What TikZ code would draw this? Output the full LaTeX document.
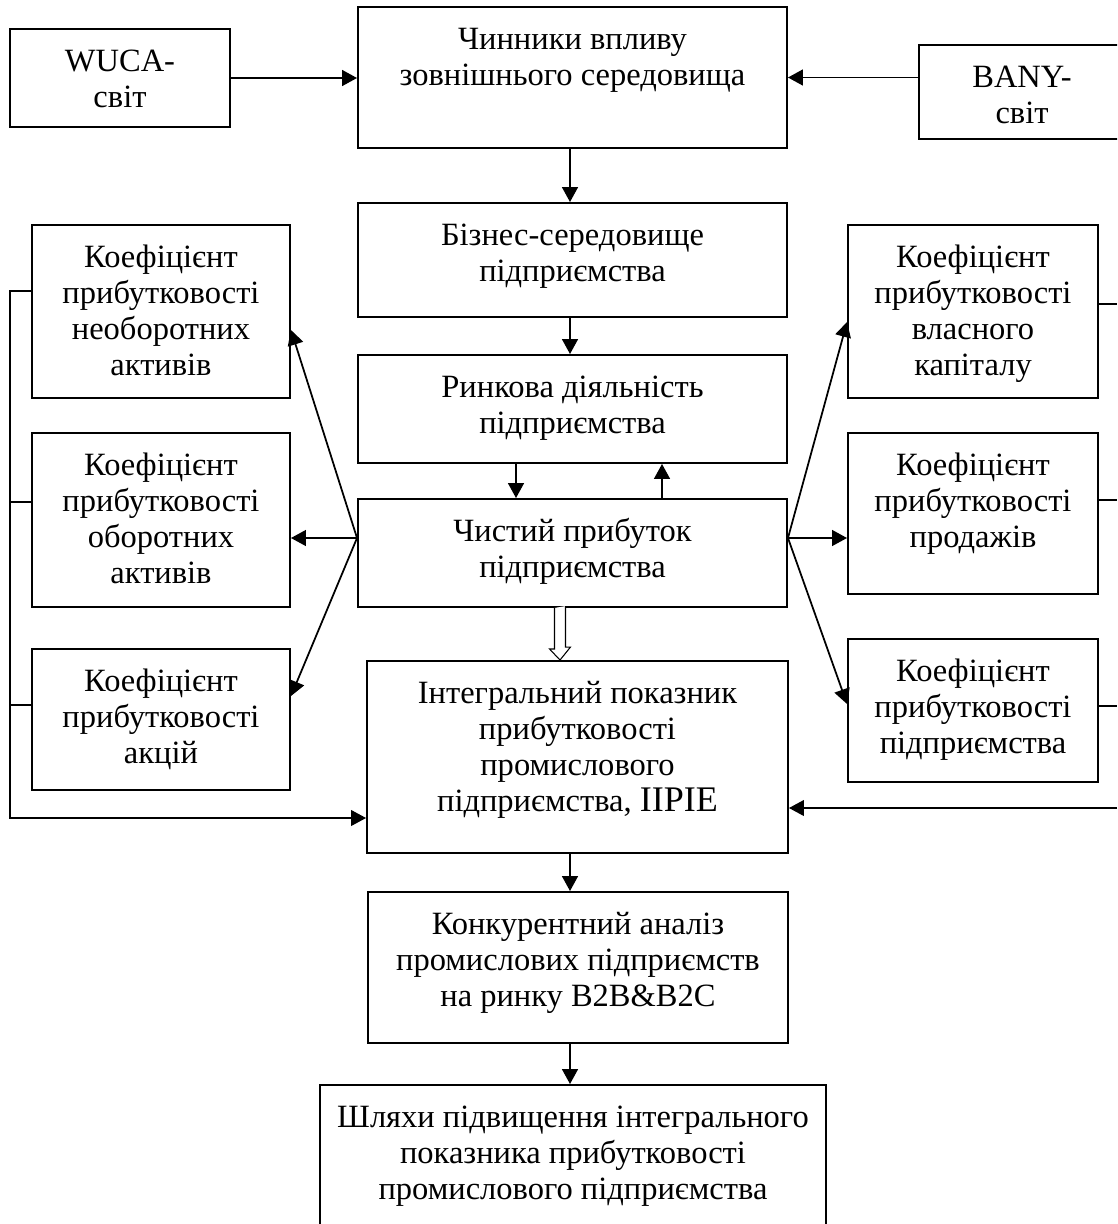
\documentclass[tikz,border=0pt]{standalone}
\usepackage{fontspec}
\setmainfont{Liberation Serif}
\usetikzlibrary{arrows.meta, calc}

\newlength\pxu
\setlength\pxu{0.02cm}
% text block of a box: width, height (px), first line 42px below the top
\newcommand{\boxtext}[3]{\parbox[c][#2\pxu][t]{#1\pxu}{\centering\rule{0pt}{42\pxu}#3}}

\begin{document}
\begin{tikzpicture}[
        x=0.02cm, y=-0.02cm,
        >={Triangle[length=8.5pt, width=9pt]},
        font=\fontsize{18.5}{20.5}\selectfont,
        box/.style={draw=black, line width=1.1pt, inner sep=0pt},
        line/.style={->, line width=1.1pt},
        fan/.style={->, line width=1pt},
        bus/.style={line width=0.7pt},
        hollow/.style={line width=0.6pt, fill=white}
    ]
        \clip (0,0) rectangle (1117,1224);
        \useasboundingbox (0,0) rectangle (1117,1224);
        \fill[white] (0,0) rectangle (1117,1224);

        % top row
        \node[box] (wuca) at (120,78) {\boxtext{220}{98}{WUCA-\\світ}};
        \node[box] (chyn) at (572.5,77.5) {\boxtext{429}{141}{Чинники впливу\\зовнішнього середовища}};
        \node[box] (bany) at (1022,92) {\boxtext{206}{94}{BANY-\\світ}};

        % central column
        \node[box] (biz) at (572.5,260) {\boxtext{429}{114}{Бізнес-середовище\\підприємства}};
        \node[box] (ryn) at (572.5,409) {\boxtext{429}{108}{Ринкова діяльність\\підприємства}};
        \node[box] (chys) at (572.5,553) {\boxtext{429}{108}{Чистий прибуток\\підприємства}};
        \node[box] (intg) at (577.5,757) {\boxtext{421}{192}{Інтегральний показник\\прибутковості\\промислового\\підприємства, {\fontsize{20.5}{20.5}\selectfont IIPIE}}};
        \node[box] (konk) at (578,967.5) {\boxtext{420}{151}{Конкурентний аналіз\\промислових підприємств\\на ринку B2B\&B2C}};
        \node[box] (shl) at (573,1167.5) {\boxtext{506}{165}{Шляхи підвищення інтегрального\\показника прибутковості\\промислового підприємства}};

        % left coefficients
        \node[box] (lk1) at (161,311.5) {\boxtext{258}{173}{Коефіцієнт\\прибутковості\\необоротних\\активів}};
        \node[box] (lk2) at (161,520) {\boxtext{258}{174}{Коефіцієнт\\прибутковості\\оборотних\\активів}};
        \node[box] (lk3) at (161,719.5) {\boxtext{258}{141}{Коефіцієнт\\прибутковості\\акцій}};

        % right coefficients
        \node[box] (rk1) at (973,311.5) {\boxtext{250}{173}{Коефіцієнт\\прибутковості\\власного\\капіталу}};
        \node[box] (rk2) at (973,513.5) {\boxtext{250}{161}{Коефіцієнт\\прибутковості\\продажів}};
        \node[box] (rk3) at (973,710.5) {\boxtext{250}{143}{Коефіцієнт\\прибутковості\\підприємства}};

        \coordinate (ax) at (570,0);
        \coordinate (dx) at (516,0);
        \coordinate (ux) at (662,0);
        \coordinate (lfan) at ($(chys.west)+(0,-15)$);
        \coordinate (rfan) at ($(chys.east)+(0,-15)$);
        \coordinate (lbus) at (10,818);
        \coordinate (rbus) at (1117,808);

        \draw[line] (wuca.east) -- (wuca.east -| chyn.west);
        \draw[line] (bany.west |- chyn) -- (chyn.east);
        \draw[line] (ax |- chyn.south) -- (ax |- biz.north);
        \draw[line] (ax |- biz.south) -- (ax |- ryn.north);
        \draw[line] (dx |- ryn.south) -- (dx |- chys.north);
        \draw[line] (ux |- chys.north) -- (ux |- ryn.south);
        \draw[line] (ax |- intg.south) -- (ax |- konk.north);
        \draw[line] (ax |- konk.south) -- (ax |- shl.north);

        % hollow arrow
        \coordinate (hx) at ($(chys.south)+(-12.5,0)$);
        \draw[hollow] ($(hx)+(-5.5,0)$) -- ++(0,41) -- ++(-5,0) -- (hx |- intg.north)
            -- ++(10.5,-13) -- ++(-5,0) -- ++(0,-41);

        \draw[fan] (lfan) -- ($(lk1.east)+(0,18.5)$);
        \draw[fan] (lfan) -- ($(lk2.east)+(0,18)$);
        \draw[fan] (lfan) -- ($(lk3.east)+(0,-23.5)$);
        \draw[fan] (rfan) -- ($(rk1.west)+(0,10.5)$);
        \draw[fan] (rfan) -- ($(rk2.west)+(0,24.5)$);
        \draw[fan] (rfan) -- ($(rk3.west)+(0,-6.5)$);

        \draw[bus, ->] ($(lk1.west)+(0,-20.5)$) -| (lbus) -- (lbus -| intg.west);
        \draw[bus] ($(lk2.west)+(0,-18)$) -| (lbus);
        \draw[bus] ($(lk3.west)+(0,-14.5)$) -| (lbus);
        \draw[bus] ($(rk1.east)+(0,-7.5)$) -- (rbus |- {$(rk1.east)+(0,-7.5)$});
        \draw[bus] ($(rk2.east)+(0,-13.5)$) -- (rbus |- {$(rk2.east)+(0,-13.5)$});
        \draw[bus] ($(rk3.east)+(0,-4.5)$) -- (rbus |- {$(rk3.east)+(0,-4.5)$});
        \draw[bus, ->] (rbus) -- (rbus -| intg.east);
    \end{tikzpicture}
\end{document}
